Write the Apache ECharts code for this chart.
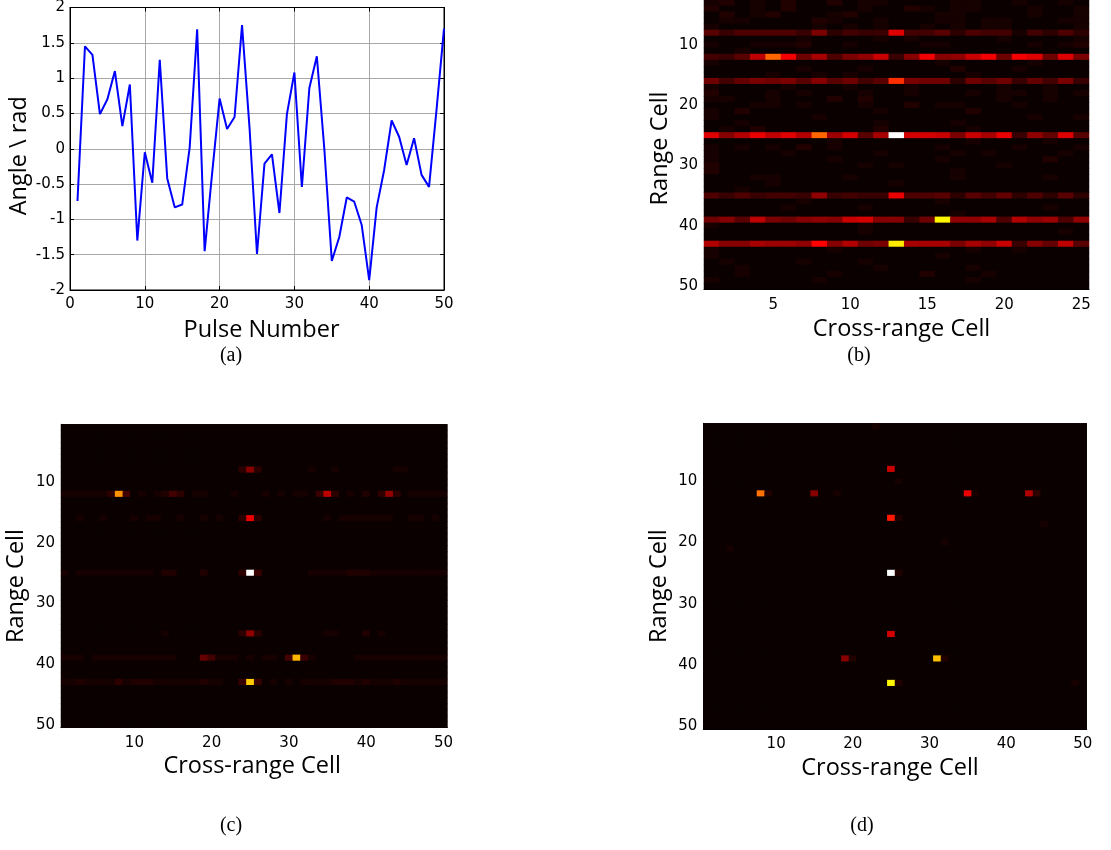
<!DOCTYPE html>
<html>
<head>
<meta charset="utf-8">
<script src="https://cdn.jsdelivr.net/npm/echarts@6/dist/echarts.min.js"></script>
<style>html,body{margin:0;padding:0;background:#fff}#c{width:1111px;height:850px}</style>
</head>
<body>
<div id="c"></div>
<script>
// ---------- (a) phase error per pulse ----------
const pulseNumbers = [1,2,3,4,5,6,7,8,9,10,11,12,13,14,15,16,17,18,19,20,21,22,23,24,25,26,27,28,29,30,31,32,33,34,35,36,37,38,39,40,41,42,43,44,45,46,47,48,49,50];
const angles = [-0.74,1.45,1.33,0.49,0.70,1.10,0.32,0.91,-1.30,-0.05,-0.48,1.26,-0.42,-0.83,-0.79,0.02,1.69,-1.45,-0.35,0.71,0.28,0.45,1.75,0.30,-1.49,-0.21,-0.08,-0.91,0.49,1.08,-0.54,0.86,1.31,0.00,-1.59,-1.25,-0.69,-0.75,-1.08,-1.86,-0.83,-0.30,0.40,0.17,-0.23,0.15,-0.37,-0.54,0.55,1.70];

// ---------- heatmap categories and tick labels ----------
const rangeCells = [1,2,3,4,5,6,7,8,9,10,11,12,13,14,15,16,17,18,19,20,21,22,23,24,25,26,27,28,29,30,31,32,33,34,35,36,37,38,39,40,41,42,43,44,45,46,47,48,49,50];
const crossCellsB = [1,2,3,4,5,6,7,8,9,10,11,12,13,14,15,16,17,18,19,20,21,22,23,24,25];
const crossCellsCD = [1,2,3,4,5,6,7,8,9,10,11,12,13,14,15,16,17,18,19,20,21,22,23,24,25,26,27,28,29,30,31,32,33,34,35,36,37,38,39,40,41,42,43,44,45,46,47,48,49,50];
const rangeTickLabels = ['10','20','30','40','50'];
const crossTickLabelsB = ['5','10','15','20','25'];
const crossTickLabelsCD = ['10','20','30','40','50'];

// cell intensities: one char per cell, level = index in LEVELS (0..61), rows = range cells 1..50
const LEVELS = '0123456789abcdefghijklmnopqrstuvwxyzABCDEFGHIJKLMNOPQRSTUVWXYZ';
const imageB = [
 "12111 21111 21111 21112 11121",
 "11112 11121 11112 11111 12111",
 "23121 31131 22111 12211 21121",
 "31121 31111 21132 12211 12112",
 "13123 11123 11111 22111 12112",
 "12211 11321 12111 22122 11122",
 "21111 11212 12112 12122 11112",
 "85777 75b46 55k66 84766 26474",
 "11111 12111 12121 11112 11112",
 "21122 23112 11112 21111 12123",
 "11211 11111 11111 11111 11111",
 "658hw maf7b di5cm cdima mkakb",
 "21111 11111 11111 21111 12111",
 "11111 12111 21111 13111 21111",
 "11112 11212 11111 11211 11111",
 "a69ba b8c8a 68rba a4a8a 596b5",
 "21111 21112 11121 11112 11211",
 "31112 12111 21121 11212 21212",
 "22112 11131 31111 11112 11211",
 "11122 12111 21131 22111 21111",
 "21311 11111 12111 11311 11111",
 "21111 11211 11111 11111 12112",
 "11211 11111 12111 12111 11111",
 "12131 11111 13111 11211 11111",
 "kcglh kgwej 8fZjj ibifl 5d9k8",
 "11111 11121 11111 11211 11211",
 "21212 13121 11111 21111 21112",
 "21111 21111 12111 12121 11121",
 "21111 11121 11111 21111 11311",
 "31111 11111 21211 11112 11111",
 "31111 11111 11111 12111 11111",
 "11122 11112 11111 12111 11211",
 "11112 11111 11211 11111 11111",
 "11211 11111 11111 11111 11111",
 "75756 65d56 55l77 84869 47484",
 "11111 12111 11111 21111 11111",
 "11111 21111 21111 11111 11211",
 "11111 11111 11111 12111 11111",
 "ac8hb acdci jcc5a Jddf7 gde7d",
 "21111 11111 21111 11111 11111",
 "11111 11111 21111 11111 11121",
 "11111 11111 11111 11111 11111",
 "gccfe edncg abIff fbfdi 5c9h8",
 "21111 11121 11111 11211 21111",
 "21111 11111 11111 21111 11111",
 "12111 12111 21111 11111 11111",
 "11211 11111 12111 11211 11111",
 "11211 11121 11113 11121 11111",
 "21111 11211 11111 11211 11111",
 "11111 11111 11111 11111 11111"
];
const imageC = [
 "1111111111 1111111111 1111111111 1111111111 1111111111",
 "1111111111 1111111111 1111111111 1111111111 1111111111",
 "1111111111 1111111111 1111111111 1111111111 1111111111",
 "1111111111 1111111111 1111111111 1111111111 1111111111",
 "1111111111 1111111111 1111111111 1111111111 1111111111",
 "1111111111 1111111111 1111111111 1111111111 1111111111",
 "1111111111 1111111111 1111111111 1111111111 1111111111",
 "1111111111 1111111111 1114c41111 1121121111 1112211111",
 "1111111111 1111111111 1111111111 1111111111 1111111111",
 "1111111111 1111111111 1111111111 1111111111 1111111111",
 "1111111111 1111111111 1111111111 1111111111 1111111111",
 "2222224A61 2123641221 1121112121 2215h41213 14d4122222",
 "1111111111 1111111111 1111111111 1111111111 1111111111",
 "1111111111 1111111111 1111111111 1111111111 1111111111",
 "1111111111 1111111111 1111111111 1111111111 1111111111",
 "1121121112 1221121121 2114l41111 1111212222 2221122121",
 "1111111111 1111111111 1111111111 1111111111 1111111111",
 "1111111111 1111111111 1111111111 1111111111 1111111111",
 "1111111111 1111111111 1111111111 1111111111 1111111111",
 "1111111111 1111111111 1111111111 1111111111 1111111111",
 "1111111111 1111111111 1111111111 1111111111 1111111111",
 "1111111111 1111111111 1111111111 1111111111 1111111111",
 "1111111111 1111111111 1111111111 1111111111 1111111111",
 "1111111111 1111111111 1111111111 1111111111 1111111111",
 "2122222222 2213311131 1114Z51111 1122222333 2222222222",
 "1111111111 1111111111 1111111111 1111111111 1111111111",
 "1111111111 1111111111 1111111111 1111111111 1111111111",
 "1111111111 1111111111 1111111111 1111111111 1111111111",
 "1111111111 1111111111 1111111111 1111111111 1111111111",
 "1111111111 1111111111 1111111111 1111111111 1111111111",
 "1111111111 1111111111 1111111111 1111111111 1111111111",
 "1111111111 1111111111 1111111111 1111111111 1111111111",
 "1111111111 1111111111 1111111111 1111111111 1111111111",
 "1111111111 1111111111 1111111111 1111111111 1111111111",
 "1111111111 1112111111 1114d41111 1111221113 1211111111",
 "1111111111 1111111111 1111111111 1111111111 1111111111",
 "1111111111 1111111111 1111111111 1111111111 1111111111",
 "1111111111 1111111111 1111111111 1111111111 1111111111",
 "2221222222 2222211196 2221212216 D521111122 2222222222",
 "1111111111 1111111111 1111111111 1111111111 1111111111",
 "1111111111 1111111111 1111111111 1111111111 1111111111",
 "1111111111 1111111111 1111111111 1111111111 1111111111",
 "2232222423 3322222232 2115F51212 1222233323 2223222222",
 "1111111111 1111111111 1111111111 1111111111 1111111111",
 "1111111111 1111111111 1111111111 1111111111 1111111111",
 "1111111111 1111111111 1111111111 1111111111 1111111111",
 "1111111111 1111111111 1111111111 1111111111 1111111111",
 "1111111111 1111111111 1111111111 1111111111 1111111111",
 "1111111111 1111111111 1111111111 1111111111 1111111111",
 "1111111111 1111111111 1111111111 1111111111 1111111111"
];
const imageD = [
 "1111111111 1111111111 1121111111 1111111111 1111111111",
 "1111111111 1111111111 1111111111 1111111111 1111111111",
 "1111111111 1111111111 1111111111 1111111111 1111111111",
 "1111111111 1111111111 1111111111 1111111111 1111111111",
 "1111111111 1111111111 1111111111 1111111111 1111111111",
 "1111111111 1111111111 1111111111 1111111111 1111111111",
 "1111111111 1111111111 1111111111 1111111111 1111111111",
 "1111111111 1111111111 1111i11111 1111111111 1111111111",
 "1111111111 1111111111 1111111111 1111111111 1111111111",
 "1111111111 1111111111 1111121111 1111111111 1111111111",
 "1111111111 1111111111 1111111111 1111111111 1111111111",
 "1111111x31 1111c11211 1111111111 1111l21111 11g4111111",
 "1111111111 1111111111 1111111111 1111111111 1111111111",
 "1111111111 1111111111 1111111111 1111111111 1111111111",
 "1111111111 1111111111 1111111111 1111111111 1111111111",
 "1111111111 1111111111 1111p31111 1111111111 1111111111",
 "1111111111 1111111111 1111111111 1111111111 1111211111",
 "1111111111 1111111111 1111111111 1111111111 1111111111",
 "1111111111 1111111111 1111111111 1111111111 1111111111",
 "1111111111 1111111111 1111111111 1211111111 1111111111",
 "1112111111 1111111111 1111111111 1111111111 1111111111",
 "1111111111 1111111111 1111111111 1111111111 1111111111",
 "1111111111 1111111111 1111111111 1111111111 1111111111",
 "1111111111 1111111111 1111111111 1111111111 1111111111",
 "1111111111 1111111111 1111Z31111 1111111111 1111111111",
 "1111111111 1111111111 1111111111 1111111111 1111111111",
 "1111111111 1111111111 1111111111 1111111111 1111111111",
 "1111111111 1111111111 1111111111 1111111111 1111111111",
 "1111111111 1111111111 1111111111 1111111111 1111111111",
 "1111111111 1111111111 1111111111 1111111111 1111111111",
 "1111111111 1111111111 1111111111 1111111111 1111111111",
 "1111111111 1111111111 1111111111 1111111111 1111111111",
 "1111111111 1111111111 1111111111 1111111111 1111111111",
 "1111111111 1111111111 1111111111 1111111111 1111111111",
 "1111111111 1111111111 1111j11111 1111111111 1111111111",
 "1111111111 1111111111 1111111111 1111111111 1111111111",
 "1111111111 1111111111 1111111111 1111111111 1111111111",
 "1111111111 1111111111 1111111111 1111111111 1111111111",
 "1111111111 11111111c3 1111111111 E311111111 1111111111",
 "1111111111 1111111111 1111111111 1111111111 1111111111",
 "1111111111 1111111111 1111111111 1111111111 1111111111",
 "1111111111 1111111111 1111111111 1111111111 1111111111",
 "1111111111 1111111111 1111J31111 1111111111 1111111121",
 "1111111111 1111111111 1111111111 1111111111 1111111111",
 "1111111111 1111111111 1111111111 1111111111 1111111111",
 "1111111111 1111111111 1111111111 1111111111 1111111111",
 "1111111111 1111111111 1111111111 1111111111 1111111111",
 "1111111111 1111111111 1111111111 1111111111 1111111111",
 "1111111111 1111111111 1111111111 1111111111 1111111111",
 "1111111111 1111111111 1111111111 1111111111 1111111111"
];
const levelMax = 61;
// MATLAB "hot" colormap stops (evenly spaced)
const hotColors = ['#000000','#550000','#aa0000','#ff0000','#ff5500','#ffaa00','#ffff00','#ffff80','#ffffff'];

function toCells(rows) {
  const out = [];
  rows.forEach((row, r) => {
    row.replace(/\s+/g, '').split('').forEach((ch, c) => {
      out.push([c, r, LEVELS.indexOf(ch)]);
    });
  });
  return out;
}

const tickFont = { fontFamily: 'DejaVu Sans', fontSize: 15, color: '#000' };
const nameFontSize = 23.5;
const black = { color: '#000', width: 1 };

function nameStyle(padding) {
  return { fontFamily: 'Open Sans', fontSize: nameFontSize, color: '#000', padding };
}
function heatX(gridIndex, cats, ticks, nameGap, padding) {
  return {
    type: 'category', gridIndex, data: cats, position: 'bottom',
    name: 'Cross-range Cell', nameLocation: 'middle', nameGap, nameTextStyle: nameStyle(padding),
    axisLine: { show: true, onZero: false, lineStyle: black },
    axisTick: { show: true, inside: true, length: 3, alignWithLabel: true,
      interval: (i, v) => ticks.includes(String(v)), lineStyle: black },
    axisLabel: { show: true, margin: 8, interval: (i, v) => ticks.includes(String(v)), ...tickFont },
    splitLine: { show: false }, splitArea: { show: false }
  };
}
function heatY(gridIndex, nameGap) {
  return {
    type: 'category', gridIndex, data: rangeCells, inverse: true, position: 'left',
    name: 'Range Cell', nameLocation: 'middle', nameGap, nameRotate: 90, nameTextStyle: nameStyle([0, 20, 0, 0]),
    axisLine: { show: true, onZero: false, lineStyle: black },
    axisTick: { show: true, inside: true, length: 3, alignWithLabel: true,
      interval: (i, v) => rangeTickLabels.includes(String(v)), lineStyle: black },
    axisLabel: { show: true, margin: 6, interval: (i, v) => rangeTickLabels.includes(String(v)), ...tickFont },
    splitLine: { show: false }, splitArea: { show: false }
  };
}
function heatSeries(idx, rows) {
  return { type: 'heatmap', xAxisIndex: idx, yAxisIndex: idx, data: toCells(rows),
    progressive: 0, emphasis: { disabled: true }, animation: false };
}
function panelLabel(text, x, y) {
  return { type: 'text', x, y, style: { text, fontFamily: 'Liberation Serif', fontSize: 20,
    fill: '#000', align: 'center', verticalAlign: 'middle', textAlign: 'center', textVerticalAlign: 'middle' } };
}
const heatGrid = { show: true, backgroundColor: '#0b0000', borderWidth: 0, outerBoundsMode: 'none', containLabel: false };

const chart = echarts.init(document.getElementById('c'), null, { renderer: 'canvas', width: 1111, height: 850 });
chart.setOption({
  animation: false,
  backgroundColor: '#fff',
  grid: [
    { left: 70, top: 7.5, width: 374, height: 282.5, show: true, borderColor: '#000', borderWidth: 1, backgroundColor: '#fff', outerBoundsMode: 'none', containLabel: false },
    { ...heatGrid, left: 704, top: -12.3, width: 385, height: 301.5 },
    { ...heatGrid, left: 61, top: 424.3, width: 386.3, height: 303.4 },
    { ...heatGrid, left: 703.3, top: 423.3, width: 383.4, height: 305.7 }
  ],
  xAxis: [
    { type: 'value', gridIndex: 0, min: 0, max: 50, interval: 10, position: 'bottom',
      name: 'Pulse Number', nameLocation: 'middle', nameGap: 28, nameTextStyle: nameStyle([0, 0, 0, 9]),
      axisLine: { show: true, onZero: false, lineStyle: black },
      axisTick: { show: true, inside: true, length: 4, lineStyle: black },
      axisLabel: { margin: 7, ...tickFont },
      splitLine: { show: true, lineStyle: { color: '#a8a8a8', width: 1 } } },
    { type: 'value', gridIndex: 0, min: 0, max: 50, interval: 10, position: 'top',
      axisLine: { show: true, onZero: false, lineStyle: black },
      axisTick: { show: true, inside: true, length: 4, lineStyle: black },
      axisLabel: { show: false }, splitLine: { show: false } },
    heatX(1, crossCellsB, crossTickLabelsB, 28, [0, 0, 0, 10]),
    heatX(2, crossCellsCD, crossTickLabelsCD, 27, [0, 4, 0, 0]),
    heatX(3, crossCellsCD, crossTickLabelsCD, 27, [0, 10, 0, 0])
  ],
  yAxis: [
    { type: 'value', gridIndex: 0, min: -2, max: 2, interval: 0.5, position: 'left',
      name: 'Angle \\ rad', nameLocation: 'middle', nameGap: 39, nameRotate: 90, nameTextStyle: nameStyle([0, 14, 0, 0]),
      axisLine: { show: true, onZero: false, lineStyle: black },
      axisTick: { show: true, inside: true, length: 4, lineStyle: black },
      axisLabel: { margin: 5, ...tickFont },
      splitLine: { show: true, lineStyle: { color: '#a8a8a8', width: 1 } } },
    { type: 'value', gridIndex: 0, min: -2, max: 2, interval: 0.5, position: 'right',
      axisLine: { show: true, onZero: false, lineStyle: black },
      axisTick: { show: true, inside: true, length: 4, lineStyle: black },
      axisLabel: { show: false }, splitLine: { show: false } },
    heatY(1, 32),
    heatY(2, 33),
    heatY(3, 32)
  ],
  visualMap: {
    type: 'continuous', show: false, min: 0, max: levelMax, seriesIndex: [1, 2, 3], dimension: 2,
    inRange: { color: hotColors }
  },
  series: [
    { type: 'line', xAxisIndex: 0, yAxisIndex: 0, data: pulseNumbers.map((p, i) => [p, angles[i]]),
      showSymbol: false, symbol: 'none', lineStyle: { color: '#0000ff', width: 2 }, itemStyle: { color: '#0000ff' },
      emphasis: { disabled: true }, animation: false },
    heatSeries(2, imageB),
    heatSeries(3, imageC),
    heatSeries(4, imageD)
  ],
  graphic: [
    panelLabel('(a)', 231, 356),
    panelLabel('(b)', 859, 356),
    panelLabel('(c)', 231, 826),
    panelLabel('(d)', 862, 826)
  ]
});
</script>
</body>
</html>
